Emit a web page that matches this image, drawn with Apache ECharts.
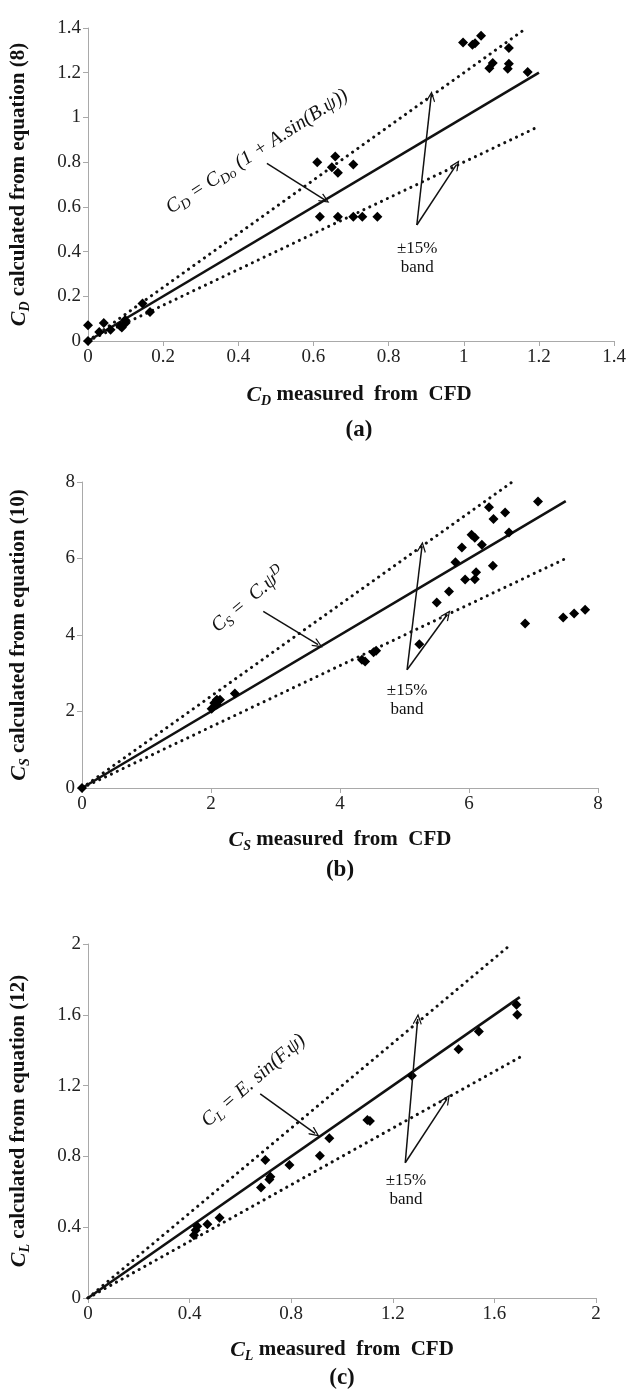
<!DOCTYPE html>
<html>
<head>
<meta charset="utf-8">
<title>CFD vs equation</title>
<script src="https://cdn.jsdelivr.net/npm/echarts@6/dist/echarts.min.js"></script>
<style>
  html, body { margin: 0; padding: 0; background: #fff; }
  #chart { width: 629px; height: 1395px; }
</style>
</head>
<body>
<div id="chart"></div>
<script>
(function () { 'use strict';

  // ---- (a) drag coefficient ----
  const cdMeasured = [0, 0, 0.03, 0.042, 0.06, 0.086, 0.09, 0.099, 0.1, 0.145, 0.165,
    0.61, 0.649, 0.658, 0.665, 0.706, 0.617, 0.665, 0.706, 0.73, 0.77,
    0.998, 1.023, 1.03, 1.046, 1.12, 1.077, 1.068, 1.12, 1.117, 1.17];
  const cdCalculated = [0.07, 0, 0.04, 0.08, 0.05, 0.067, 0.06, 0.094, 0.08, 0.168, 0.13,
    0.80, 0.777, 0.825, 0.753, 0.79, 0.556, 0.556, 0.556, 0.556, 0.556,
    1.335, 1.325, 1.332, 1.365, 1.31, 1.243, 1.22, 1.24, 1.218, 1.203];
  const cdFit = [[0, 0], [1.2, 1.2]];
  const cdUpper = [[0, 0], [1.167, 1.4]];
  const cdLower = [[0, 0], [1.2, 0.96]];

  // ---- (b) side force coefficient ----
  const csMeasured = [0, 2.01, 2.05, 2.09, 2.14, 2.09, 2.37, 4.34, 4.39, 4.52, 4.56,
    5.23, 5.5, 5.69, 5.79, 5.89, 5.94, 6.04, 6.09, 6.11, 6.09, 6.2, 6.31, 6.38,
    6.37, 6.56, 6.62, 7.07, 6.87, 7.46, 7.63, 7.8];
  const csCalculated = [0, 2.07, 2.22, 2.31, 2.31, 2.18, 2.47, 3.35, 3.31, 3.55, 3.59,
    3.76, 4.85, 5.14, 5.9, 6.29, 5.45, 6.62, 6.54, 5.64, 5.46, 6.36, 7.34, 7.03,
    5.81, 7.2, 6.68, 7.49, 4.30, 4.46, 4.56, 4.66];
  const csFit = [[0, 0], [7.5, 7.5]];
  const csUpper = [[0, 0], [6.67, 8]];
  const csLower = [[0, 0], [7.5, 6]];

  // ---- (c) lift coefficient ----
  const clMeasured = [0.417, 0.424, 0.43, 0.47, 0.518, 0.681, 0.698, 0.718, 0.714,
    0.793, 0.913, 0.95, 1.1, 1.11, 1.275, 1.459, 1.539, 1.687, 1.69];
  const clCalculated = [0.355, 0.383, 0.406, 0.417, 0.453, 0.625, 0.779, 0.685, 0.67,
    0.751, 0.804, 0.902, 1.006, 1.0, 1.255, 1.406, 1.506, 1.657, 1.60];
  const clFit = [[0, 0], [1.7, 1.7]];
  const clUpper = [[0, 0], [1.667, 2]];
  const clLower = [[0, 0], [1.7, 1.36]];

  // axis ranges [min, max, interval]
  const axisA = [0, 1.4, 0.2];
  const axisB = [0, 8, 2];
  const axisC = [0, 2, 0.4];

  // annotation arrows: [from, to]
  const eqArrowA = [[0.476, 0.795], [0.63, 0.631]];
  const bandArrowsA = [[[0.875, 0.519], [0.913, 1.094]], [[0.875, 0.519], [0.98, 0.788]]];
  const eqArrowB = [[2.81, 4.62], [3.66, 3.75]];
  const bandArrowsB = [[[5.04, 3.09], [5.27, 6.3]], [[5.04, 3.09], [5.66, 4.53]]];
  const eqArrowC = [[0.678, 1.153], [0.894, 0.93]];
  const bandArrowsC = [[[1.249, 0.764], [1.298, 1.576]], [[1.249, 0.764], [1.413, 1.124]]];

  // annotation text anchors
  const eqLabelA = [0.45, 0.847];
  const bandLabelA = [0.876, 0.373];
  const eqLabelB = [2.58, 4.92];
  const bandLabelB = [5.04, 2.29];
  const eqLabelC = [0.652, 1.228];
  const bandLabelC = [1.252, 0.61];

  const SERIF = '"Liberation Serif", "Times New Roman", serif';
  const GREY = '#a9a9a9';
  const openArrow = 'path://M5,0 L10,10 L9,11 L5,3 L1,11 L0,10 Z';

  const zip = (xs, ys) => xs.map((x, i) => [x, ys[i]]);

  const nameRich = {
    c: { fontFamily: SERIF, fontWeight: 'bold', fontStyle: 'italic', fontSize: 22, lineHeight: 26, color: '#111', verticalAlign: 'middle' },
    s: { fontFamily: SERIF, fontWeight: 'bold', fontStyle: 'italic', fontSize: 14, lineHeight: 15, color: '#111', verticalAlign: 'bottom' },
    b: { fontFamily: SERIF, fontWeight: 'bold', fontSize: 21, lineHeight: 26, color: '#111', verticalAlign: 'middle' }
  };

  const eqRich = {
    i: { fontFamily: SERIF, fontStyle: 'italic', fontSize: 20, lineHeight: 25, color: '#111', verticalAlign: 'middle' },
    s: { fontFamily: SERIF, fontStyle: 'italic', fontSize: 14, lineHeight: 14, color: '#111', verticalAlign: 'bottom' },
    p: { fontFamily: SERIF, fontStyle: 'italic', fontSize: 14, lineHeight: 14, color: '#111', verticalAlign: 'top' }
  };

  const makeAxis = (idx, range, name, gap, extra) => Object.assign({
    type: 'value',
    gridIndex: idx,
    min: range[0],
    max: range[1],
    interval: range[2],
    name: name,
    nameLocation: 'middle',
    nameGap: gap,
    nameTextStyle: { rich: nameRich },
    axisLine: { show: true, lineStyle: { color: GREY, width: 1 } },
    axisTick: { show: true, inside: false, length: 5, lineStyle: { color: GREY } },
    axisLabel: { fontFamily: SERIF, fontSize: 19, color: '#222', margin: 7 },
    splitLine: { show: false }
  }, extra || {});

  const lineSeries = (idx, data, dotted) => ({
    type: 'line',
    xAxisIndex: idx,
    yAxisIndex: idx,
    data: data,
    symbol: 'none',
    silent: true,
    z: 2,
    lineStyle: dotted
      ? { color: '#111', width: 3, type: [0.1, 6.4], cap: 'round' }
      : { color: '#111', width: 2.6 }
  });

  const pointSeries = (idx, data, arrows) => ({
    type: 'scatter',
    xAxisIndex: idx,
    yAxisIndex: idx,
    data: data,
    symbol: 'diamond',
    symbolSize: 10,
    itemStyle: { color: '#000', opacity: 1 },
    z: 4,
    markLine: {
      silent: true,
      symbol: ['none', openArrow],
      symbolSize: [9, 11],
      label: { show: false },
      lineStyle: { color: '#111', width: 1.5, type: 'solid', opacity: 1 },
      emphasis: { disabled: true },
      data: arrows.map(a => [{ coord: a[0] }, { coord: a[1] }])
    }
  });

  const textSeries = (idx, eqPos, eqText, eqRotate, bandPos) => ({
    type: 'scatter',
    xAxisIndex: idx,
    yAxisIndex: idx,
    symbolSize: 0,
    silent: true,
    z: 5,
    itemStyle: { opacity: 1 },
    data: [
      {
        value: eqPos,
        label: { show: true, position: 'inside', rotate: eqRotate, formatter: eqText, rich: eqRich }
      },
      {
        value: bandPos,
        label: {
          show: true, position: 'inside', formatter: '±15%\nband',
          fontFamily: SERIF, fontSize: 17, lineHeight: 19, color: '#111', align: 'center'
        }
      }
    ]
  });

  const panelLabel = (text, x, y) => ({
    type: 'text',
    x: x,
    y: y,
    style: {
      text: text,
      fontFamily: SERIF,
      fontWeight: 'bold',
      fontSize: 23,
      fill: '#111',
      align: 'center',
      verticalAlign: 'middle'
    }
  });

  const chartInit = () => {
    const chart = echarts.init(document.getElementById('chart'), null, { renderer: 'canvas' });

    const option = {
      backgroundColor: '#fff',
      animation: false,
      grid: [
        { left: 84, top: 28, width: 532, height: 313 },
        { left: 82, top: 482, width: 516, height: 306 },
        { left: 85, top: 944, width: 511, height: 354 }
      ],
      xAxis: [
        makeAxis(0, axisA, '{c|C}{s|D}{b| measured  from  CFD}', 41, { nameTextStyle: { rich: nameRich, padding: [0, 0, 0, 16] } }),
        makeAxis(1, axisB, '{c|C}{s|S}{b| measured  from  CFD}', 39),
        makeAxis(2, axisC, '{c|C}{s|L}{b| measured  from  CFD}', 39)
      ],
      yAxis: [
        makeAxis(0, axisA, '{c|C}{s|D}{b| calculated from equation (8)}', 56),
        makeAxis(1, axisB, '{c|C}{s|S}{b| calculated from equation (10)}', 50),
        makeAxis(2, axisC, '{c|C}{s|L}{b| calculated from equation (12)}', 56)
      ],
      graphic: [
        panelLabel('(a)', 359, 430),
        panelLabel('(b)', 340, 870),
        panelLabel('(c)', 342, 1378)
      ],
      series: [
        lineSeries(0, cdUpper, true),
        lineSeries(0, cdLower, true),
        lineSeries(0, cdFit, false),
        pointSeries(0, zip(cdMeasured, cdCalculated), [eqArrowA].concat(bandArrowsA)),
        textSeries(0, eqLabelA, '{i|C}{s|D}{i| = C}{s|Do}{i| (1 + A.sin(B.ψ))}', 33, bandLabelA),

        lineSeries(1, csUpper, true),
        lineSeries(1, csLower, true),
        lineSeries(1, csFit, false),
        pointSeries(1, zip(csMeasured, csCalculated), [eqArrowB].concat(bandArrowsB)),
        textSeries(1, eqLabelB, '{i|C}{s|S}{i| =  C.ψ}{p|D}', 40, bandLabelB),

        lineSeries(2, clUpper, true),
        lineSeries(2, clLower, true),
        lineSeries(2, clFit, false),
        pointSeries(2, zip(clMeasured, clCalculated), [eqArrowC].concat(bandArrowsC)),
        textSeries(2, eqLabelC, '{i|C}{s|L}{i| = E. sin(F.ψ)}', 41, bandLabelC)
      ]
    };

    chart.setOption(option);
    window.addEventListener('resize', () => chart.resize());
  };

  if (document.readyState === 'loading') {
    document.addEventListener('DOMContentLoaded', chartInit);
  } else {
    chartInit();
  }
})();
</script>
</body>
</html>
